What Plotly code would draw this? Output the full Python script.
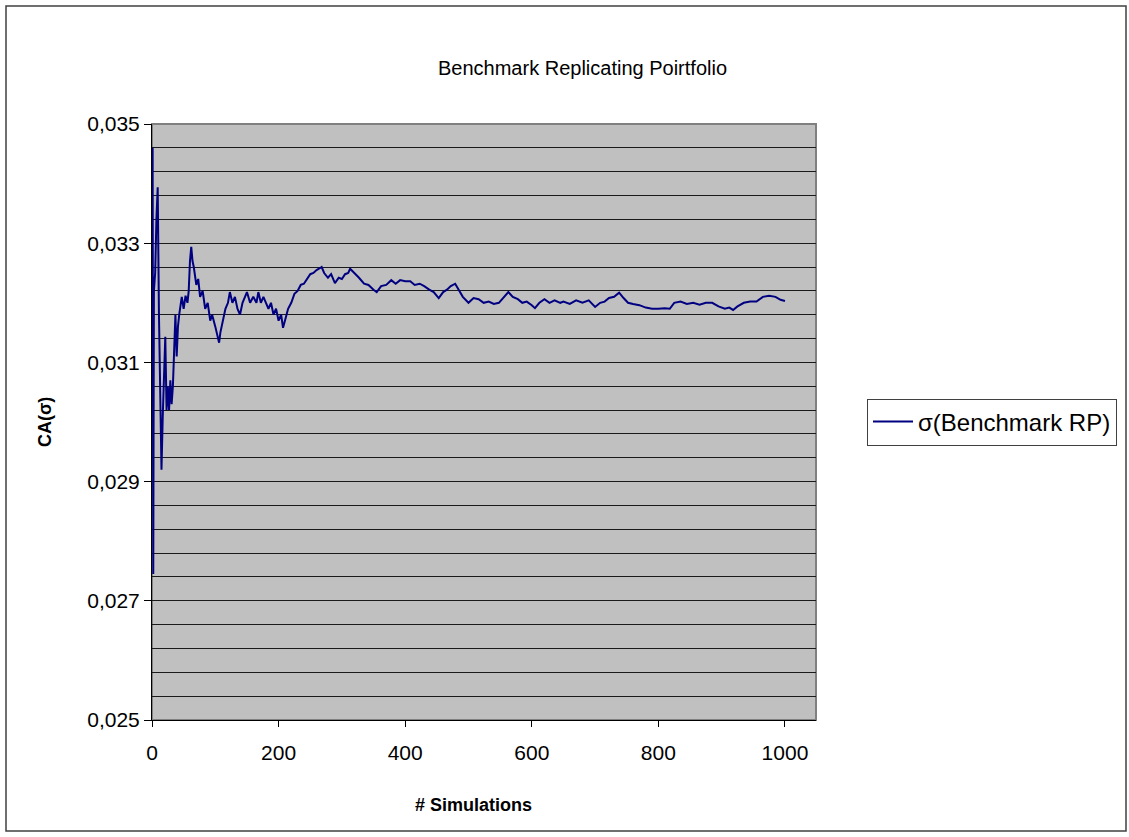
import plotly.graph_objects as go

# Data (# simulations, CA(sigma))
sim = [1, 2, 3, 5, 7, 9, 11, 13, 15, 17, 19, 21, 23, 25, 27, 29, 31, 33, 35, 37, 39, 41, 43,
       47, 50, 53, 56, 58, 60, 62, 64, 66, 70, 73, 76, 80, 84, 88, 92, 95, 100, 104, 106, 108,
       112, 116, 120, 123, 127, 131, 135, 139, 143, 147, 150, 155, 160, 165, 168, 172, 176, 180,
       184, 188, 192, 196, 200, 204, 207, 210, 215, 220, 225, 230, 235, 240, 245, 250, 255, 260,
       265, 268, 272, 278, 283, 289, 295, 300, 305, 310, 313, 320, 327, 335, 342, 350, 355, 362,
       370, 378, 385, 392, 400, 408, 415, 423, 430, 438, 445, 453, 460, 466, 472, 479, 485, 491,
       500, 508, 516, 524, 532, 540, 548, 556, 563, 570, 578, 585, 592, 600, 605, 612, 620, 628,
       636, 645, 650, 660, 670, 680, 690, 700, 708, 715, 722, 730, 738, 745, 752, 760, 770, 780,
       790, 800, 810, 818, 825, 835, 845, 855, 865, 875, 885, 895, 905, 912, 918, 925, 935, 945,
       955, 965, 975, 985, 993, 1000]
ca_sigma = [0.03460, 0.02745, 0.03220, 0.03250, 0.03340, 0.03394, 0.03180, 0.03050, 0.02920,
            0.03010, 0.03100, 0.03143, 0.03020, 0.03060, 0.03020, 0.03070, 0.03030, 0.03060,
            0.03120, 0.03180, 0.03110, 0.03160, 0.03180, 0.03210, 0.03190, 0.03212, 0.03200,
            0.03220, 0.03270, 0.03294, 0.03270, 0.03260, 0.03230, 0.03240, 0.03210, 0.03220,
            0.03190, 0.03200, 0.03170, 0.03180, 0.03160, 0.03140, 0.03133, 0.03150, 0.03170,
            0.03190, 0.03200, 0.03218, 0.03200, 0.03210, 0.03190, 0.03180, 0.03200, 0.03210,
            0.03218, 0.03200, 0.03210, 0.03200, 0.03218, 0.03200, 0.03210, 0.03200, 0.03190,
            0.03200, 0.03180, 0.03190, 0.03170, 0.03180, 0.03158, 0.03170, 0.03190, 0.03200,
            0.03215, 0.03220, 0.03230, 0.03232, 0.03240, 0.03248, 0.03250, 0.03255, 0.03258,
            0.03260, 0.03250, 0.03242, 0.03248, 0.03233, 0.03242, 0.03240, 0.03248, 0.03250,
            0.03257, 0.03250, 0.03242, 0.03232, 0.03230, 0.03222, 0.03218, 0.03228, 0.03230,
            0.03238, 0.03232, 0.03238, 0.03236, 0.03236, 0.03230, 0.03232, 0.03228, 0.03222,
            0.03218, 0.03208, 0.03218, 0.03222, 0.03228, 0.03232, 0.03220, 0.03210, 0.03200,
            0.03208, 0.03206, 0.03200, 0.03202, 0.03198, 0.03200, 0.03210, 0.03218, 0.03210,
            0.03206, 0.03200, 0.03202, 0.03196, 0.03191, 0.03200, 0.03206, 0.03200, 0.03204,
            0.03200, 0.03202, 0.03198, 0.03204, 0.03200, 0.03204, 0.03193, 0.03200, 0.03202,
            0.03208, 0.03210, 0.03217, 0.03208, 0.03200, 0.03198, 0.03196, 0.03192, 0.03190,
            0.03190, 0.03191, 0.03190, 0.03200, 0.03202, 0.03198, 0.03200, 0.03197, 0.03200,
            0.03200, 0.03194, 0.03190, 0.03192, 0.03188, 0.03194, 0.03200, 0.03202, 0.03202,
            0.03210, 0.03212, 0.03210, 0.03205, 0.03203]

y_tickvals = [0.025, 0.027, 0.029, 0.031, 0.033, 0.035]
y_ticktext = ["0,025", "0,027", "0,029", "0,031", "0,033", "0,035"]
x_tickvals = [0, 200, 400, 600, 800, 1000]
x_ticktext = ["0", "200", "400", "600", "800", "1000"]

FONT = "Liberation Sans, Arial, sans-serif"

fig = go.Figure()
fig.add_trace(go.Scatter(
    x=sim, y=ca_sigma, mode="lines", name="σ(Benchmark RP)",
    line=dict(color="#000080", width=2),
))

W, H = 1129, 837
L, R, T, B = 152, 1129 - 816, 124, 837 - 720
pw, ph = W - L - R, H - T - B

def px_x(px):
    return (px - L) / pw

def px_y(py):
    return (H - B - py) / ph

fig.update_layout(
    width=W, height=H,
    margin=dict(l=L, r=R, t=T, b=B, autoexpand=False),
    paper_bgcolor="white",
    plot_bgcolor="#C0C0C0",
    font=dict(family=FONT, color="black", size=20),
    showlegend=True,
    legend=dict(
        x=px_x(867), y=0.5, xanchor="left", yanchor="middle",
        bgcolor="white", bordercolor="#404040", borderwidth=1,
        font=dict(size=24, family=FONT),
        itemwidth=40,
    ),
    xaxis=dict(
        range=[0, 1049], tickmode="array", tickvals=x_tickvals, ticktext=x_ticktext,
        showgrid=False, zeroline=False, showline=True, linecolor="black", linewidth=1,
        ticks="outside", ticklen=6, tickcolor="black", ticklabelstandoff=8,
        tickfont=dict(size=21, family=FONT),
    ),
    yaxis=dict(
        range=[0.025, 0.035], tickmode="array", tickvals=y_tickvals, ticktext=y_ticktext,
        showgrid=True, gridcolor="#1a1a1a", gridwidth=1,
        zeroline=False, showline=True, linecolor="black", linewidth=1,
        ticks="outside", ticklen=7, tickcolor="black",
        tickfont=dict(size=21, family=FONT),
        minor=dict(tickmode="linear", tick0=0.025, dtick=0.0004, showgrid=True,
                   gridcolor="#1a1a1a", gridwidth=1, ticks=""),
    ),
    shapes=[
        dict(type="rect", xref="paper", yref="paper", x0=0, x1=1, y0=0, y1=1,
             line=dict(color="#808080", width=2), layer="below"),
        dict(type="rect", xref="paper", yref="paper",
             x0=px_x(6), x1=px_x(1126), y0=px_y(831), y1=px_y(6),
             line=dict(color="#404040", width=1.5), layer="below"),
    ],
    annotations=[
        dict(text="Benchmark Replicating Poirtfolio", xref="paper", yref="paper",
             x=px_x(582), y=px_y(68), xanchor="center", yanchor="middle",
             showarrow=False, font=dict(size=20, family=FONT)),
        dict(text="<b># Simulations</b>", xref="paper", yref="paper",
             x=px_x(473), y=px_y(805), xanchor="center", yanchor="middle",
             showarrow=False, font=dict(size=18, family=FONT)),
        dict(text="<b>CA(σ)</b>", xref="paper", yref="paper",
             x=px_x(45), y=px_y(422), xanchor="center", yanchor="middle",
             textangle=-90, showarrow=False, font=dict(size=18, family=FONT)),
    ],
)

fig.write_html("out.html")
